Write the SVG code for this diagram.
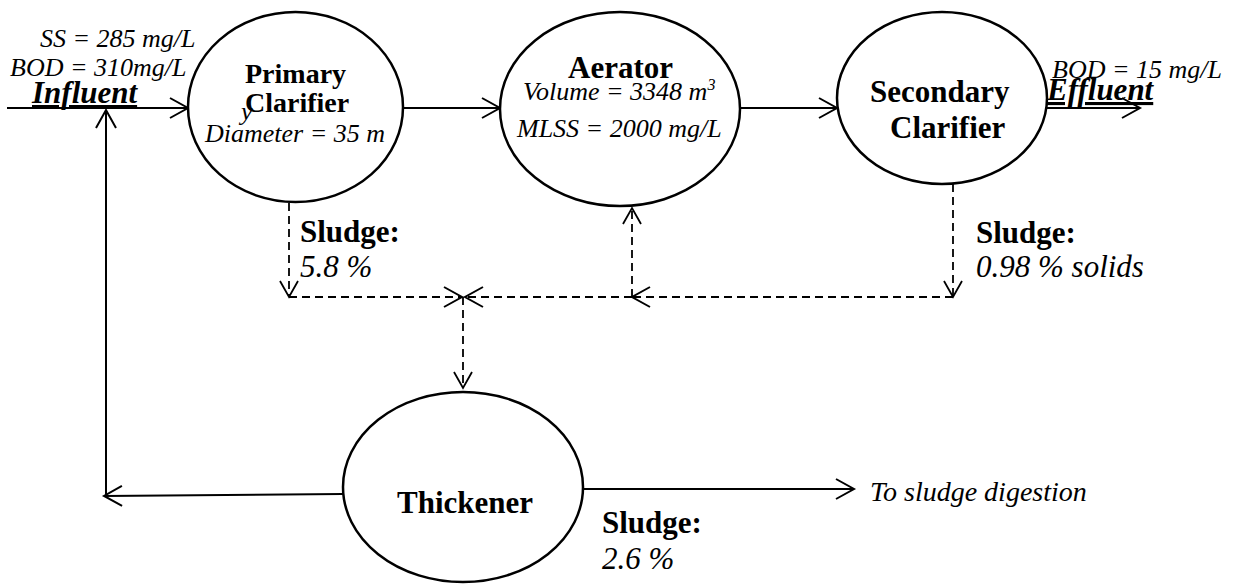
<svg xmlns="http://www.w3.org/2000/svg" width="1238" height="584" viewBox="0 0 1238 584">
<style>
  .node { fill: #ffffff; stroke: #000000; stroke-width: 2.5; }
  .flow { fill: none; stroke: #000000; stroke-width: 2; }
  .dash { fill: none; stroke: #000000; stroke-width: 1.8; stroke-dasharray: 8 5; }
  .b { font-family: "Liberation Serif", "Times New Roman", serif; font-weight: bold; font-size: 31px; fill: #000; }
  .bs { font-family: "Liberation Serif", "Times New Roman", serif; font-weight: bold; font-size: 28px; fill: #000; }
  .i { font-family: "Liberation Serif", "Times New Roman", serif; font-style: italic; font-size: 26px; fill: #000; }
  .il { font-family: "Liberation Serif", "Times New Roman", serif; font-style: italic; font-size: 31px; fill: #000; }
  .im { font-family: "Liberation Serif", "Times New Roman", serif; font-style: italic; font-size: 28px; fill: #000; }
  .bi { font-family: "Liberation Serif", "Times New Roman", serif; font-style: italic; font-weight: bold; font-size: 31px; fill: #000; text-decoration: underline; }
</style>
<defs>
  <marker id="arr" markerUnits="userSpaceOnUse" markerWidth="24" markerHeight="24" viewBox="-20 -12 24 24" refX="0" refY="0" orient="auto">
    <path d="M-18,-10 L0,0 L-18,10" fill="none" stroke="#000" stroke-width="2" stroke-dasharray="none"/>
  </marker>
  <marker id="arrd" markerUnits="userSpaceOnUse" markerWidth="24" markerHeight="24" viewBox="-20 -12 24 24" refX="0" refY="0" orient="auto">
    <path d="M-16,-9 L0,0 L-16,9" fill="none" stroke="#000" stroke-width="1.8" stroke-dasharray="none"/>
  </marker>
</defs>

<g id="connectors">
  <line class="flow" x1="7" y1="108" x2="188" y2="108" marker-end="url(#arr)"/>
  <line class="flow" x1="403" y1="108" x2="500" y2="108" marker-end="url(#arr)"/>
  <line class="flow" x1="740" y1="108" x2="837" y2="108" marker-end="url(#arr)"/>
  <line class="flow" x1="1047" y1="108" x2="1140" y2="108" marker-end="url(#arr)"/>
  <line class="flow" x1="106" y1="496" x2="106" y2="110" marker-end="url(#arr)"/>
  <line class="flow" x1="343" y1="494" x2="104" y2="496" marker-end="url(#arr)"/>
  <line class="flow" x1="583" y1="489" x2="854" y2="489" marker-end="url(#arr)"/>
  <line class="dash" x1="289" y1="203" x2="289" y2="297" marker-end="url(#arrd)"/>
  <line class="dash" x1="289" y1="297" x2="462" y2="297" marker-end="url(#arr)"/>
  <line class="dash" x1="632" y1="297" x2="465" y2="297" marker-end="url(#arr)"/>
  <line class="dash" x1="953" y1="297" x2="632" y2="297" marker-end="url(#arr)"/>
  <line class="dash" x1="632" y1="297" x2="632" y2="208" marker-end="url(#arrd)"/>
  <line class="dash" x1="953" y1="184" x2="953" y2="297" marker-end="url(#arrd)"/>
  <line class="dash" x1="463" y1="297" x2="463" y2="388" marker-end="url(#arrd)"/>
</g>

<g id="primary-clarifier">
  <ellipse class="node" cx="295.5" cy="107" rx="107.5" ry="95"/>
  <text class="bs" x="245" y="83">Primary</text>
  <text class="bs" x="245" y="112">Clarifier</text>
  <text class="i" x="241" y="120">y</text>
  <text class="i" x="205" y="142">Diameter = 35 m</text>
</g>

<g id="aerator">
  <ellipse class="node" cx="620" cy="109" rx="120" ry="97"/>
  <text class="b" x="568" y="78">Aerator</text>
  <text class="i" x="523" y="100">Volume = 3348 m<tspan font-size="16" dy="-10">3</tspan></text>
  <text class="i" x="517" y="137">MLSS = 2000 mg/L</text>
</g>

<g id="secondary-clarifier">
  <ellipse class="node" cx="942" cy="98" rx="105" ry="86"/>
  <text class="b" x="870" y="102">Secondary</text>
  <text class="b" x="890" y="138">Clarifier</text>
</g>

<g id="thickener">
  <ellipse class="node" cx="463" cy="487" rx="120" ry="95"/>
  <text class="b" x="397" y="513">Thickener</text>
</g>

<g id="labels">
  <text class="i" x="40" y="47">SS = 285 mg/L</text>
  <text class="i" x="10" y="76">BOD = 310mg/L</text>
  <text class="bi" x="32" y="103">Influent</text>
  <text class="i" x="1052" y="78">BOD = 15 mg/L</text>
  <text class="bi" x="1047" y="100">Effluent</text>
  <text class="b" x="300" y="242">Sludge:</text>
  <text class="il" x="300" y="277">5.8 %</text>
  <text class="b" x="976" y="243">Sludge:</text>
  <text class="il" x="976" y="277">0.98 % solids</text>
  <text class="b" x="602" y="533">Sludge:</text>
  <text class="il" x="602" y="569">2.6 %</text>
  <text class="im" x="870" y="501">To sludge digestion</text>
</g>
</svg>
